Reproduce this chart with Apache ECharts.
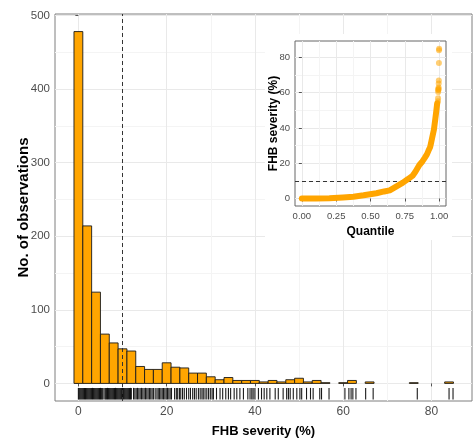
<!DOCTYPE html>
<html><head><meta charset="utf-8">
<script src="https://cdn.jsdelivr.net/npm/echarts@6/dist/echarts.min.js"></script>
<style>html,body{margin:0;padding:0;background:#fff}#c{width:473px;height:439px}</style>
</head><body><div id="c"></div>
<script>
// ---- data ----
const binCenters = [0,2,4,6,8,10,12,14,16,18,20,22,24,26,28,30,32,34,36,38,40,42,44,46,48,50,52,54,56,58,60,62,64,66,68,70,72,74,76,78,80,82,84];
const binCounts  = [478,214,124,67,55,47,44,23,19,19,28,22,21,14,14,9,5,8,4,4,4,2,4,2,5,7,2,4,1,0,1,4,0,2,0,0,0,0,1,0,0,0,2];
const binWidth = 2;

const rugValues = [
  0,0.2,0.4,0.6,0.8,1,1.2,1.4,1.6,1.8,2,2.2,2.4,2.6,2.8,3,3.2,3.4,3.6,3.8,4,4.2,4.4,4.6,4.8,5,5.2,5.4,5.6,
  6,6.2,6.4,6.6,6.8,7,7.2,7.4,7.6,7.8,8,8.2,8.4,8.6,8.8,9,9.2,9.4,9.6,9.8,10,10.2,10.4,10.6,10.8,11,11.2,11.4,11.6,11.8,12,
  12.5,12.8,13.1,13.4,13.7,14,14.3,14.6,14.9,15.2,15.5,15.8,16.1,16.4,16.7,17,17.4,17.8,18.1,18.4,18.7,19,19.3,19.6,19.9,
  20.2,20.5,20.8,21.1,21.8,22.2,22.5,22.9,23.2,23.6,24,24.5,25,25.4,25.9,26.3,26.7,27.2,27.6,28,28.3,28.7,29.1,29.5,29.9,
  30.3,30.6,31.3,32.1,32.7,33.4,34,34.5,35.3,35.9,36.6,37.4,38.4,38.9,39.3,39.6,40,40.8,41.5,42.1,42.7,43.4,44.6,45.3,
  46.4,47.2,47.6,48,48.7,49.5,50.2,50.6,51.7,52.6,53.2,54.7,55.1,56.8,60.4,61.3,61.8,62.2,62.9,65.1,66.8,76.8,84,84.9
];

const quantileProb     = [0,0.1,0.2,0.3,0.375,0.45,0.543,0.6,0.64,0.693,0.736,0.773,0.808,0.826,0.841,0.856,0.878,0.895,0.911,0.922,0.934,0.94,0.951,0.962,0.972,0.98,0.986];
const quantileSeverity = [0,0,0.2,0.6,1.0,1.8,3.0,4.0,4.6,7.0,9.0,11.0,13.0,15.0,17.0,19.0,21.0,23.0,25.0,27.0,29.0,31.0,35.0,39.0,45.0,50.0,54.0];
const tailProb     = [0.9914,0.9922,0.993,0.9937,0.9945,0.9953,0.9961,0.9969,0.9976,0.9984,0.9992,1.0];
const tailSeverity = [55.1,56.8,60.4,61.3,61.8,62.2,62.9,65.1,66.8,76.8,84.0,84.9];

const thresholdSeverity = 10;
const mainXTicks = [0,20,40,60,80];
const mainYTicks = [0,100,200,300,400,500];
const insetXTicks = [0,0.25,0.5,0.75,1];
const insetYTicks = [0,20,40,60,80];

// ---- chart ----
const FONT = 'Liberation Sans, Arial, sans-serif';
const TXT = '#4d4d4d';
const MAJ = '#e9e9e9', MIN = '#f4f4f4';
const mainX = {min:-5.3, max:89.2};
const mainY = {min:-23.9, max:501.9};

function axisCommon(ticks, step, fontSize, fmt){
  return {
    type:'value', minInterval:step, maxInterval:step,
    nameMoveOverlap:false,
    axisLine:{show:false},
    axisTick:{show:true, customValues:ticks, length:3, lineStyle:{color:'#555', width:1}},
    axisLabel:{customValues:ticks, color:TXT, fontSize:fontSize, fontFamily:FONT, margin:5,
      formatter: v => ticks.some(t=>Math.abs(t-v)<1e-9) ? (fmt?fmt(v):String(v)) : ''},
    splitLine:{show:true, lineStyle:{color:MAJ, width:1}},
    minorTick:{show:false, splitNumber:2},
    minorSplitLine:{show:true, lineStyle:{color:MIN, width:1}}
  };
}

const chart = echarts.init(document.getElementById('c'), null, {renderer:'canvas'});
chart.setOption({
  animation:false,
  backgroundColor:'#fff',
  graphic:[{type:'rect', z:3, silent:true, shape:{x:265, y:34, width:187, height:206}, style:{fill:'#fff'}}],
  grid:[
    {left:55, right:1, top:14, bottom:38, show:true, borderColor:'#7f7f7f', borderWidth:1, backgroundColor:'transparent',
      containLabel:false, outerBoundsMode:'none'},
    {left:295, right:27, top:41, bottom:233, show:true, borderColor:'#666', borderWidth:1, backgroundColor:'#fff', z:4,
      containLabel:false, outerBoundsMode:'none'}
  ],
  xAxis:[
    Object.assign(axisCommon(mainXTicks, 20, 12), {gridIndex:0, min:mainX.min, max:mainX.max,
      name:'FHB severity (%)', nameLocation:'middle', nameGap:24,
      nameTextStyle:{fontWeight:'bold', fontSize:13, color:'#000', fontFamily:FONT}}),
    Object.assign(axisCommon(insetXTicks, 0.25, 9.5, v=>v.toFixed(2)), {gridIndex:1, min:-0.05, max:1.05, z:5,
      name:'Quantile', nameLocation:'middle', nameGap:20,
      nameTextStyle:{fontWeight:'bold', fontSize:12, color:'#000', fontFamily:FONT}})
  ],
  yAxis:[
    Object.assign(axisCommon(mainYTicks, 100, 11.5), {gridIndex:0, min:mainY.min, max:mainY.max,
      name:'No. of observations', nameLocation:'middle', nameGap:24,
      nameTextStyle:{fontWeight:'bold', fontSize:15, color:'#000', fontFamily:FONT}}),
    Object.assign(axisCommon(insetYTicks, 20, 9.5), {gridIndex:1, min:-4.25, max:89.25, z:5,
      name:'FHB severity (%)', nameLocation:'middle', nameGap:15,
      nameTextStyle:{fontWeight:'bold', fontSize:12, color:'#000', fontFamily:FONT}})
  ],
  series:[
    {
      type:'custom', xAxisIndex:0, yAxisIndex:0, z:2,
      data: binCenters.map((c,i)=>[c, binCounts[i]]),
      encode:{x:0, y:1},
      renderItem:(params, api)=>{
        const c = api.value(0), n = api.value(1);
        if (!n) return null;
        const p0 = api.coord([c - binWidth/2, n]);
        const p1 = api.coord([c + binWidth/2, 0]);
        return {type:'rect', shape:{x:p0[0], y:p0[1], width:p1[0]-p0[0], height:p1[1]-p0[1]},
          style:{fill:'#FFA500', stroke:'#1a1a1a', lineWidth:0.9}};
      },
      markLine:{silent:true, symbol:'none', label:{show:false},
        lineStyle:{type:[4,3], color:'#333', width:1},
        data:[{xAxis:thresholdSeverity}]}
    },
    {
      type:'custom', xAxisIndex:0, yAxisIndex:0, z:2,
      data: rugValues.map(v=>[v, mainY.min]),
      encode:{x:0, y:1},
      renderItem:(params, api)=>{
        const v = api.value(0);
        const pb = api.coord([v, mainY.min]);
        const pt = api.coord([v, mainY.max]);
        const len = (pb[1]-pt[1])*0.03;
        return {type:'line', shape:{x1:pb[0], y1:pb[1]-1.5, x2:pb[0], y2:pb[1]-1.5-len},
          style:{stroke:'#000', lineWidth:1.1, opacity:0.9}};
      }
    },
    {
      type:'line', xAxisIndex:1, yAxisIndex:1, z:6,
      data: quantileProb.map((q,i)=>[q, quantileSeverity[i]]),
      showSymbol:false, symbol:'none',
      lineStyle:{color:'#FFA500', width:6, cap:'round', join:'round'},
      markLine:{silent:true, symbol:'none', label:{show:false},
        lineStyle:{type:[4,3], color:'#333', width:1},
        data:[{yAxis:thresholdSeverity}]}
    },
    {
      type:'scatter', xAxisIndex:1, yAxisIndex:1, z:6,
      data: tailProb.map((q,i)=>[q, tailSeverity[i]]),
      symbolSize:6,
      itemStyle:{color:'#FFA500', opacity:0.55}
    }
  ]
});
</script></body></html>
